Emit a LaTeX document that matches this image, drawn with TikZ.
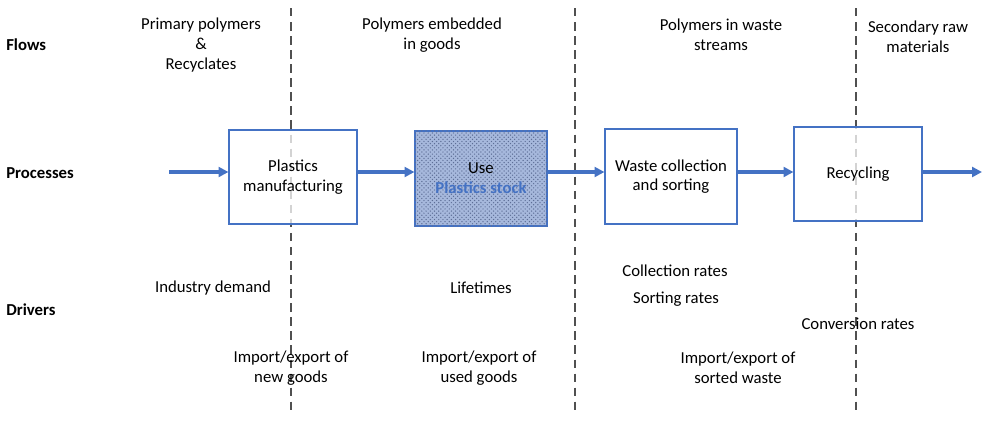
\documentclass[tikz,border=0pt]{standalone}
\usepackage{fontspec}
\setmainfont{Carlito}
\usetikzlibrary{arrows.meta,patterns}
\definecolor{procblue}{HTML}{4472C4}
\definecolor{stockfill}{HTML}{A6B8DC}
\definecolor{stockdots}{HTML}{5D6E96}
\definecolor{divgray}{HTML}{505050}

\begin{document}
\begin{tikzpicture}[x=0.025cm, y=-0.025cm, font=\fontsize{11.9}{14}\selectfont,
  proc/.style={draw=procblue, thick, fill=white, fill opacity=0.75, text opacity=1,
    align=center, inner sep=0pt},
  flow/.style={draw=procblue, line width=2.2pt, -{Triangle[length=7pt,width=7pt]}},
  divider/.style={draw=divgray, line width=1pt, dash pattern=on 6pt off 4pt},
  txt/.style={align=center, inner sep=0pt},
  rowlabel/.style={anchor=west, font=\fontsize{11.9}{14}\selectfont\bfseries, inner sep=0pt}]
\useasboundingbox (0,0) rectangle (995,422);
% divider lines between the flow stages
\foreach \x in {291,575,856}
  \draw[divider] (\x,8) -- (\x,412);
% row labels
\node[rowlabel] (flows) at (6,45) {Flows};
\node[rowlabel] (processes) at (6,173) {Processes};
\node[rowlabel] (drivers) at (6,310) {Drivers};
% flows
\node[txt] (primary) at (201,45) {Primary polymers\\\&\\Recyclates};
\node[txt] (embedded) at (432,35) {Polymers embedded\\in goods};
\node[txt] (wastestr) at (721,35) {Polymers in waste\\streams};
\node[txt] (secondary) at (918,37) {Secondary raw\\materials};
% processes
\node[proc, minimum width=3.2cm, minimum height=2.35cm] (manuf) at (293,177)
  {Plastics\\manufacturing};
\node[draw=procblue, thick, fill=stockfill, align=center, minimum width=3.3cm,
  minimum height=2.375cm, postaction={pattern=crosshatch dots, pattern color=stockdots}]
  (use) at (481,178.5) {Use\\\textcolor{procblue}{\bfseries Plastics stock}};
\node[proc, minimum width=3.3cm, minimum height=2.375cm] (collect) at (671,176.5)
  {Waste collection\\and sorting};
\node[proc, minimum width=3.2cm, minimum height=2.35cm] (recycl) at (858,174) {Recycling};
\coordinate (in) at (169,172);
\coordinate (out) at (982,172);
\draw[flow] (in) -- (manuf.west |- in);
\draw[flow] (manuf.east |- in) -- (use.west |- in);
\draw[flow] (use.east |- in) -- (collect.west |- in);
\draw[flow] (collect.east |- in) -- (recycl.west |- in);
\draw[flow] (recycl.east |- in) -- (out);
% drivers
\node[txt] (demand) at (213,288) {Industry demand};
\node[txt] (newgoods) at (291,368) {Import/export of\\new goods};
\node[txt] (lifetimes) at (481,288) {Lifetimes};
\node[txt] (usedgoods) at (479,368) {Import/export of\\used goods};
\node[txt] (collrates) at (675,271) {Collection rates};
\node[txt] (sortrates) at (676,299) {Sorting rates};
\node[txt] (sortwaste) at (738,368) {Import/export of\\sorted waste};
\node[txt] (convrates) at (858,324) {Conversion rates};
\end{tikzpicture}
\end{document}
